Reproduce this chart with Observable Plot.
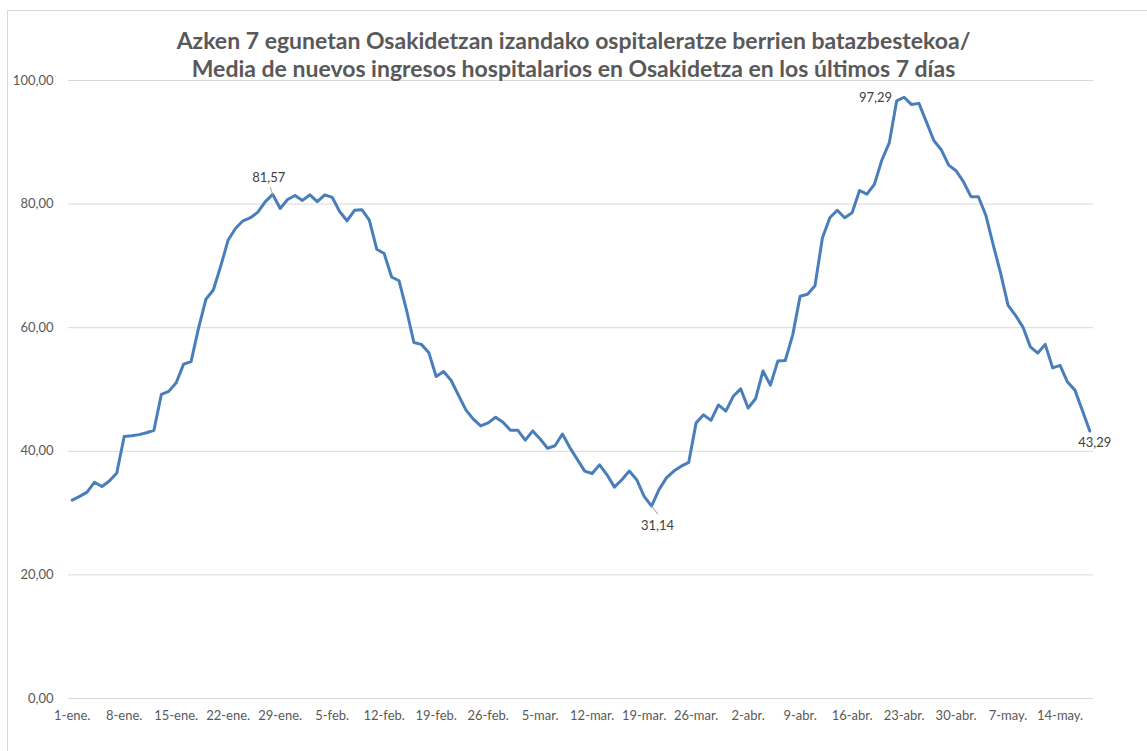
<!DOCTYPE html>
<html>
<head>
<meta charset="utf-8">
<script src="https://cdn.jsdelivr.net/npm/d3@7"></script>
<script src="https://cdn.jsdelivr.net/npm/@observablehq/plot@0.6"></script>
<style>
  body { margin: 0; background: #fff; }
  #wrap { position: relative; width: 1147px; height: 751px; overflow: hidden; font-family: Lato, "Open Sans", sans-serif; background: #fff; }
  #frame { position: absolute; left: 7px; top: 10px; width: 1200px; height: 800px; border-left: 1px solid #d9d9d9; border-top: 1px solid #d9d9d9; }
  #title { position: absolute; z-index: 2; top: 26px; left: 0; width: 1147px; text-align: center; font-weight: bold; font-size: 23px; line-height: 28px; color: #595959; }
  #chart { position: absolute; z-index: 1; top: 72px; left: 0; }
</style>
</head>
<body>
<div id="wrap">
  <div id="frame"></div>
  <div id="chart"></div>
  <div id="title">Azken 7 egunetan Osakidetzan izandako ospitaleratze berrien batazbestekoa/<br>Media de nuevos ingresos hospitalarios en Osakidetza en los últimos 7 días</div>
</div>
<script>
// 7-day average of new hospital admissions, 1 Jan 2021 .. 18 May 2021 (one value per day)
const startDay = "2021-01-01";
const values = [
  32.1, 32.7, 33.4, 35.0, 34.3, 35.2, 36.5, 42.4, 42.5, 42.7,
  43.0, 43.4, 49.2, 49.7, 51.1, 54.1, 54.5, 59.9, 64.6, 66.1,
  70.0, 74.2, 76.1, 77.3, 77.8, 78.7, 80.4, 81.57, 79.3, 80.75,
  81.4, 80.6, 81.5, 80.4, 81.5, 81.1, 78.8, 77.3, 79.0, 79.1,
  77.4, 72.7, 72.0, 68.2, 67.6, 62.9, 57.6, 57.3, 56.0, 52.1,
  52.9, 51.5, 49.1, 46.7, 45.2, 44.1, 44.6, 45.5, 44.7, 43.4,
  43.4, 41.8, 43.3, 42.0, 40.5, 40.9, 42.8, 40.6, 38.7, 36.8,
  36.4, 37.8, 36.2, 34.2, 35.4, 36.8, 35.4, 32.7, 31.14, 33.8,
  35.7, 36.8, 37.6, 38.2, 44.6, 45.9, 45.0, 47.5, 46.5, 48.9,
  50.1, 47.0, 48.5, 53.0, 50.7, 54.6, 54.7, 58.8, 65.1, 65.4,
  66.8, 74.5, 77.8, 79.0, 77.8, 78.6, 82.2, 81.6, 83.2, 87.1,
  89.9, 96.7, 97.29, 96.1, 96.3, 93.3, 90.3, 88.8, 86.3, 85.4,
  83.6, 81.2, 81.2, 78.2, 73.4, 68.8, 63.6, 62.0, 60.1, 56.9,
  55.9, 57.3, 53.5, 53.9, 51.2, 49.9, 46.6, 43.29
];
const tickDays = ["2021-01-01","2021-01-08","2021-01-15","2021-01-22","2021-01-29","2021-02-05","2021-02-12","2021-02-19","2021-02-26","2021-03-05","2021-03-12","2021-03-19","2021-03-26","2021-04-02","2021-04-09","2021-04-16","2021-04-23","2021-04-30","2021-05-07","2021-05-14"];
const tickLabels = ["1-ene.","8-ene.","15-ene.","22-ene.","29-ene.","5-feb.","12-feb.","19-feb.","26-feb.","5-mar.","12-mar.","19-mar.","26-mar.","2-abr.","9-abr.","16-abr.","23-abr.","30-abr.","7-may.","14-may."];
const yTicks = [0, 20, 40, 60, 80, 100];
// labelled points: day index and label text
const labelDays = [27, 78, 112, 137];
const labelTexts = ["81,57", "31,14", "97,29", "43,29"];

const DAY = 864e5;
const t0 = new Date(startDay + "T00:00:00Z").getTime();
const data = values.map((v, i) => ({date: new Date(t0 + i * DAY), value: v}));
const ticks = tickDays.map(s => new Date(s + "T00:00:00Z"));
const tickMap = new Map(ticks.map((d, i) => [+d, tickLabels[i]]));
const lab = labelDays.map((d, i) => ({...data[d], text: labelTexts[i]}));

const leader = {draw(context, l) { context.moveTo(0, 0); context.lineTo(0, -l); }};
const fmt = d => d.toFixed(2).replace(".", ",");

const chart = Plot.plot({
  width: 1147,
  height: 679,
  marginTop: 8,
  marginBottom: 53,
  marginLeft: 68,
  marginRight: 54,
  style: {fontFamily: "Lato, 'Open Sans', sans-serif", fontSize: "13px", color: "#595959", background: "transparent"},
  x: {type: "utc", domain: [new Date(t0 - DAY / 2), new Date(t0 + (values.length - 0.5) * DAY)]},
  y: {domain: [0, 100]},
  marks: [
    Plot.gridY(yTicks, {stroke: "#d9d9d9", strokeOpacity: 1, strokeWidth: 1}),
    Plot.axisY(yTicks, {tickSize: 0, tickPadding: 15, tickFormat: fmt, label: null, fill: "#595959", fontSize: 13}),
    Plot.axisX(ticks, {tickSize: 0, tickPadding: 12, tickFormat: d => tickMap.get(+d), label: null, fill: "#595959", fontSize: 13}),
    Plot.line(data, {x: "date", y: "value", stroke: "#4a7ebb", strokeWidth: 3, strokeLinejoin: "round", strokeLinecap: "round"}),
    Plot.vector([lab[0]], {x: "date", y: "value", length: 7.5, rotate: -20, anchor: "start", shape: leader, stroke: "#a6a6a6", strokeWidth: 1}),
    Plot.vector([lab[1]], {x: "date", y: "value", length: 10, rotate: 142, anchor: "start", shape: leader, stroke: "#a6a6a6", strokeWidth: 1}),
    Plot.text([lab[0]], {x: "date", y: "value", text: "text", dx: -4, dy: -17, fill: "#404040", fontSize: 13}),
    Plot.text([lab[1]], {x: "date", y: "value", text: "text", dx: 6, dy: 20, fill: "#404040", fontSize: 13}),
    Plot.text([lab[2]], {x: "date", y: "value", text: "text", dx: -12, dy: 1, textAnchor: "end", fill: "#404040", fontSize: 13}),
    Plot.text([lab[3]], {x: "date", y: "value", text: "text", dx: 5, dy: 12, fill: "#404040", fontSize: 13})
  ]
});
document.getElementById("chart").appendChild(chart);
</script>
</body>
</html>
